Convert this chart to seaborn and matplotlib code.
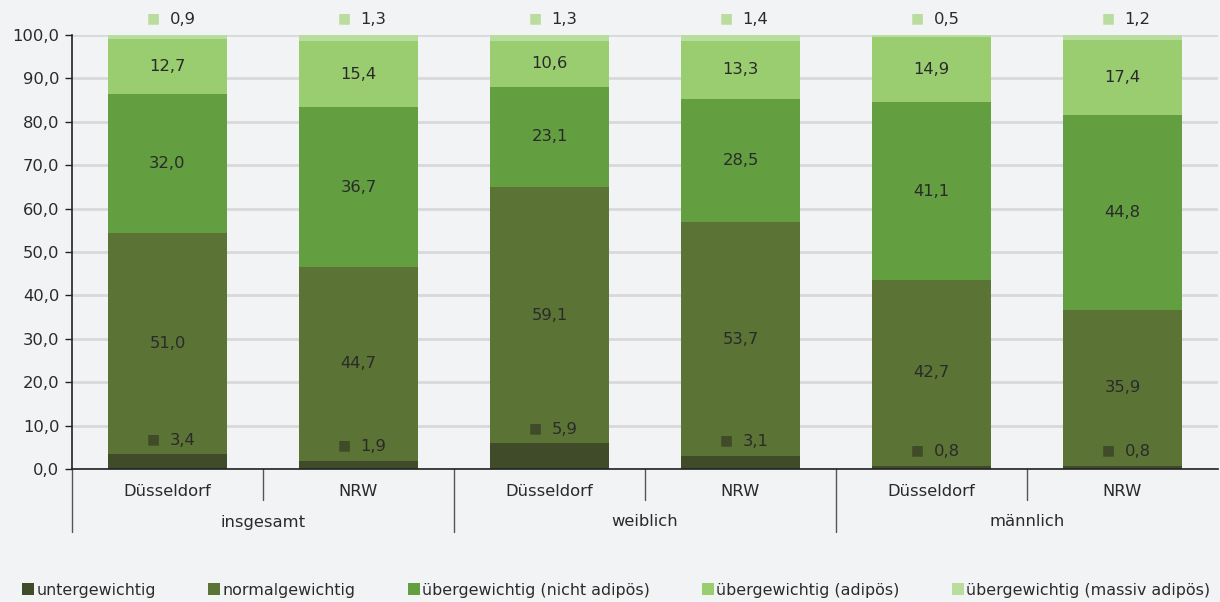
import matplotlib
matplotlib.use("Agg")
import matplotlib.pyplot as plt
from matplotlib.patches import Patch
from matplotlib.lines import Line2D
import seaborn as sns
import pandas as pd
import numpy as np

# --- data -------------------------------------------------------------
groups = ["insgesamt", "weiblich", "männlich"]
regions = ["Düsseldorf", "NRW"]
series = [
    "untergewichtig",
    "normalgewichtig",
    "übergewichtig (nicht adipös)",
    "übergewichtig (adipös)",
    "übergewichtig (massiv adipös)",
]
# order of bars: insgesamt D, insgesamt NRW, weiblich D, weiblich NRW, männlich D, männlich NRW
untergewichtig = [3.4, 1.9, 5.9, 3.1, 0.8, 0.8]
normalgewichtig = [51.0, 44.7, 59.1, 53.7, 42.7, 35.9]
nicht_adipoes = [32.0, 36.7, 23.1, 28.5, 41.1, 44.8]
adipoes = [12.7, 15.4, 10.6, 13.3, 14.9, 17.4]
massiv_adipoes = [0.9, 1.3, 1.3, 1.4, 0.5, 1.2]

colors = ["#404B29", "#5B7335", "#639E41", "#99CD70", "#B9DC9F"]
bg = "#F2F3F5"
txt = "#2A2A2A"
fs = 11.8

values = [untergewichtig, normalgewichtig, nicht_adipoes, adipoes, massiv_adipoes]
keys = [f"{g}|{r}" for g in groups for r in regions]
df = pd.DataFrame({s: v for s, v in zip(series, values)})
df["key"] = keys
cum = df[series].cumsum(axis=1)

sns.set_theme(style="white")
plt.rcParams["font.family"] = ["DejaVu Sans"]

fig = plt.figure(figsize=(12.2, 6.02), dpi=100, facecolor=bg)
ax = fig.add_axes([72 / 1220, 1 - 469 / 602, 1146 / 1220, 434 / 602])
ax.set_facecolor(bg)

# stacked bars: draw cumulative totals from the top layer down
for s, c in reversed(list(zip(series, colors))):
    sns.barplot(x=df["key"], y=cum[s], color=c, width=0.62, ax=ax,
                order=keys, saturation=1, linewidth=0, zorder=3)

ax.set_ylim(0, 100)
ax.set_xlim(-0.5, 5.5)
ax.set_yticks(np.arange(0, 101, 10))
ax.set_yticklabels([f"{v:.1f}".replace(".", ",") for v in np.arange(0, 101, 10)],
                   fontsize=fs, color=txt)
ax.yaxis.grid(True, color="#D9D9DB", linewidth=2, zorder=0)
ax.set_axisbelow(True)
ax.tick_params(axis="y", length=5, width=1, color="#222222", direction="out", left=True, pad=4)
ax.set_xlabel("")
ax.set_ylabel("")
ax.set_xticks([])
for side in ["top", "right"]:
    ax.spines[side].set_visible(False)
for side in ["left", "bottom"]:
    ax.spines[side].set_color("#222222")
    ax.spines[side].set_linewidth(1.2)
    ax.spines[side].set_zorder(5)


def fmt(v):
    return f"{v:.1f}".replace(".", ",")


# value labels
for i in range(len(keys)):
    base = 0.0
    for j, s in enumerate(series):
        v = df[s].iloc[i]
        if j in (1, 2, 3):
            ax.text(i, base + v / 2, fmt(v), ha="center", va="center",
                    fontsize=fs, color=txt, zorder=6)
        base += v
    # small segments: label with a square key above the segment
    v0 = df[series[0]].iloc[i]
    ax.annotate(fmt(v0), xy=(i, v0), xytext=(2, 14), textcoords="offset pixels",
                ha="left", va="center", fontsize=fs, color=txt, zorder=6)
    ax.annotate("■", xy=(i, v0), xytext=(-14, 15), textcoords="offset pixels",
                ha="center", va="center", fontsize=10, color=colors[0], zorder=6)
    v4 = df[series[4]].iloc[i]
    ax.annotate(fmt(v4), xy=(i, 100), xytext=(2, 16), textcoords="offset pixels",
                ha="left", va="center", fontsize=fs, color=txt, annotation_clip=False)
    ax.annotate("■", xy=(i, 100), xytext=(-14, 17), textcoords="offset pixels",
                ha="center", va="center", fontsize=10, color=colors[4], annotation_clip=False)

# hierarchical category axis
trans = ax.get_xaxis_transform()
px = 1 / 434.0
for i, k in enumerate(keys):
    ax.text(i, -22 * px, k.split("|")[1], transform=trans, ha="center", va="center",
            fontsize=fs, color=txt, clip_on=False)
for gi, g in enumerate(groups):
    ax.text(gi * 2 + 0.5, -53 * px, g, transform=trans, ha="center", va="center",
            fontsize=fs, color=txt, clip_on=False)
for b in np.arange(-0.5, 5.6, 1.0):
    idx = int(round(b + 0.5))
    if idx == 6:
        continue
    long = idx % 2 == 0
    y1 = -63 * px if long else -31 * px
    ax.add_line(Line2D([b, b], [0, y1], transform=trans, color="#555555",
                       linewidth=1, clip_on=False))

# legend
handles = [Patch(facecolor=c, edgecolor="none", label=s) for s, c in zip(series, colors)]
fig.legend(handles=handles, loc="center left", bbox_to_anchor=(16 / 1220, 1 - 590 / 602),
           ncol=5, frameon=False, fontsize=11.4, handlelength=0.75, handleheight=0.75,
           handletextpad=0.15, columnspacing=3.3, labelcolor=txt, borderaxespad=0)

fig.savefig("out.png", dpi=100, facecolor=bg)
